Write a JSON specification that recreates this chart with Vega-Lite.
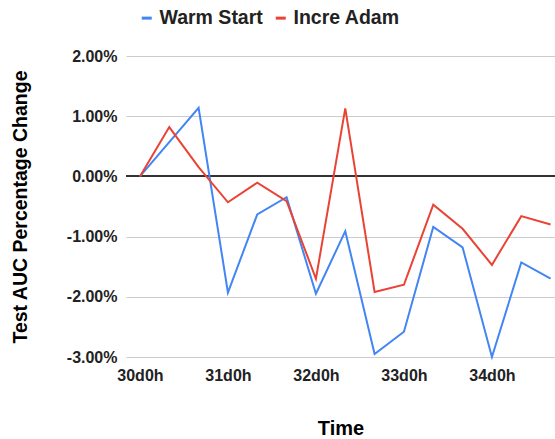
{
  "$schema": "https://vega.github.io/schema/vega-lite/v6.json",
  "autosize": "none",
  "width": 429,
  "height": 301,
  "padding": {"left": 126, "top": 56, "right": 0, "bottom": 82},
  "background": "white",
  "config": {
    "view": {"stroke": null},
    "font": "Liberation Sans"
  },
  "data": {
    "values": [
      {"series": "Warm Start", "hour": 720, "value": 0},
      {"series": "Warm Start", "hour": 728, "value": 0.57},
      {"series": "Warm Start", "hour": 736, "value": 1.14},
      {"series": "Warm Start", "hour": 744, "value": -1.93},
      {"series": "Warm Start", "hour": 752, "value": -0.63},
      {"series": "Warm Start", "hour": 760, "value": -0.345},
      {"series": "Warm Start", "hour": 768, "value": -1.95},
      {"series": "Warm Start", "hour": 776, "value": -0.91},
      {"series": "Warm Start", "hour": 784, "value": -2.95},
      {"series": "Warm Start", "hour": 792, "value": -2.58},
      {"series": "Warm Start", "hour": 800, "value": -0.84},
      {"series": "Warm Start", "hour": 808, "value": -1.18},
      {"series": "Warm Start", "hour": 816, "value": -3.0},
      {"series": "Warm Start", "hour": 824, "value": -1.43},
      {"series": "Warm Start", "hour": 832, "value": -1.7},
      {"series": "Incre Adam", "hour": 720, "value": 0},
      {"series": "Incre Adam", "hour": 728, "value": 0.82},
      {"series": "Incre Adam", "hour": 736, "value": 0.155},
      {"series": "Incre Adam", "hour": 744, "value": -0.43},
      {"series": "Incre Adam", "hour": 752, "value": -0.105},
      {"series": "Incre Adam", "hour": 760, "value": -0.41},
      {"series": "Incre Adam", "hour": 768, "value": -1.7},
      {"series": "Incre Adam", "hour": 776, "value": 1.13},
      {"series": "Incre Adam", "hour": 784, "value": -1.92},
      {"series": "Incre Adam", "hour": 792, "value": -1.8},
      {"series": "Incre Adam", "hour": 800, "value": -0.47},
      {"series": "Incre Adam", "hour": 808, "value": -0.87},
      {"series": "Incre Adam", "hour": 816, "value": -1.47},
      {"series": "Incre Adam", "hour": 824, "value": -0.66},
      {"series": "Incre Adam", "hour": 832, "value": -0.8}
    ]
  },
  "layer": [
    {
      "mark": {"type": "rule", "color": "#333333", "strokeWidth": 1},
      "encoding": {"y": {"datum": 0, "type": "quantitative"}}
    },
    {
      "mark": {"type": "line", "strokeWidth": 2, "strokeJoin": "miter"},
      "encoding": {
        "x": {
          "field": "hour",
          "type": "quantitative",
          "scale": {"domain": [716.2, 833.2], "nice": false, "zero": false},
          "axis": {
            "title": "Time",
            "values": [720, 744, 768, 792, 816],
            "labelExpr": "floor(datum.value / 24) + 'd0h'",
            "grid": false,
            "domain": false,
            "ticks": false,
            "labelFont": "Liberation Sans",
            "labelFontSize": 16,
            "labelFontWeight": "bold",
            "labelColor": "#222222",
            "labelPadding": 10,
            "labelFlush": false,
            "titleFont": "Liberation Sans",
            "titleFontSize": 20,
            "titleFontWeight": "bold",
            "titleColor": "#000000",
            "titlePadding": 35
          }
        },
        "y": {
          "field": "value",
          "type": "quantitative",
          "scale": {"domain": [-3, 2], "nice": false, "zero": false},
          "axis": {
            "title": "Test AUC Percentage Change",
            "values": [-3, -2, -1, 0, 1, 2],
            "labelExpr": "(datum.value < 0 ? '-' : '') + format(abs(datum.value), '.2f') + '%'",
            "grid": true,
            "gridColor": "#cccccc",
            "gridWidth": 1,
            "domain": false,
            "ticks": false,
            "labelFont": "Liberation Sans",
            "labelFontSize": 16,
            "labelFontWeight": "bold",
            "labelColor": "#222222",
            "labelPadding": 9,
            "titleFont": "Liberation Sans",
            "titleFontSize": 19.5,
            "titleFontWeight": "bold",
            "titleColor": "#000000",
            "titlePadding": 36
          }
        },
        "color": {
          "field": "series",
          "type": "nominal",
          "scale": {"domain": ["Warm Start", "Incre Adam"], "range": ["#4285F4", "#EA4335"]},
          "legend": {
            "title": null,
            "orient": "none",
            "direction": "horizontal",
            "legendX": 11,
            "legendY": -48,
            "symbolType": "stroke",
            "symbolSize": 100,
            "symbolStrokeWidth": 3,
            "labelFont": "Liberation Sans",
            "labelFontSize": 19.5,
            "labelFontWeight": "bold",
            "labelColor": "#222222",
            "labelOffset": 3,
            "columnPadding": 6,
            "labelLimit": 300
          }
        }
      }
    }
  ]
}
